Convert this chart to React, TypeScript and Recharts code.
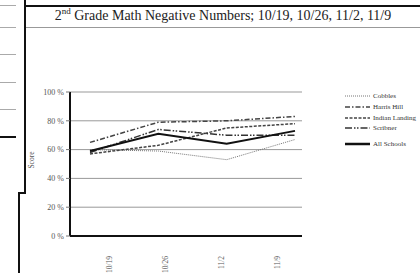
import { LineChart, Line, XAxis, YAxis, CartesianGrid, Legend } from "recharts";

const SERIF = "'Liberation Serif', 'Times New Roman', serif";

// values (percent)
const dates = ["10/19", "10/26", "11/2", "11/9"];
const cobbles = [60, 59, 53, 67];
const harrisHill = [65, 79, 80, 83];
const indianLanding = [57, 63, 75, 78];
const scribner = [58, 74, 70, 70];
const allSchools = [59, 71, 64, 73];
const yTicks = [0, 20, 40, 60, 80, 100];

const data = dates.map((d, i) => ({
  date: d,
  Cobbles: cobbles[i],
  "Harris Hill": harrisHill[i],
  "Indian Landing": indianLanding[i],
  Scribner: scribner[i],
  "All Schools": allSchools[i],
}));

const SERIES = [
  { key: "Cobbles", color: "#777", width: 1, dash: "1 1" },
  { key: "Harris Hill", color: "#444", width: 1.5, dash: "5 2 1.5 2" },
  { key: "Indian Landing", color: "#444", width: 1.5, dash: "3 1.5" },
  { key: "Scribner", color: "#333", width: 1.5, dash: "7 2 1.5 1.5 1.5 2" },
  { key: "All Schools", color: "#111", width: 2, dash: undefined as string | undefined },
];

// keep the legend in series order (recharts sorts the payload by name)
function LegendBox() {
  return (
    <div style={{ width: 77, fontFamily: SERIF, fontSize: 7, color: "#333" }}>
      {SERIES.map((s) => {
        const last = s.key === "All Schools";
        return (
          <div
            key={s.key}
            style={{ display: "flex", alignItems: "center", height: 10.7, marginTop: last ? 5 : 0 }}
          >
            <svg width={28} height={6}>
              <line
                x1={2}
                y1={3}
                x2={27}
                y2={3}
                stroke={s.color}
                strokeWidth={last ? 2.5 : s.width}
                strokeDasharray={s.dash}
              />
            </svg>
            <span style={{ whiteSpace: "nowrap", marginLeft: 2 }}>{s.key}</span>
          </div>
        );
      })}
    </div>
  );
}

function DateTick({ x, y, payload }: any) {
  const ty = y + 18;
  return (
    <text
      x={x}
      y={ty}
      transform={`rotate(-90 ${x} ${ty})`}
      textAnchor="end"
      dominantBaseline="central"
      fontSize={7.5}
      fill="#555"
      fontFamily={SERIF}
    >
      {payload.value}
    </text>
  );
}

function ScoreLabel({ viewBox }: any) {
  const x = viewBox.x + 11;
  const y = 160;
  return (
    <text
      x={x}
      y={y}
      transform={`rotate(-90 ${x} ${y})`}
      textAnchor="middle"
      dominantBaseline="central"
      fontSize={7.5}
      fill="#555"
      fontFamily={SERIF}
    >
      Score
    </text>
  );
}

const rule = (left: number, top: number, width: number, height: number, color: string) => (
  <div style={{ position: "absolute", left, top, width, height, background: color }} />
);

export default function App() {
  return (
    <div style={{ position: "absolute", left: 0, top: 0, width: 420, height: 273, background: "#fff", overflow: "hidden" }}>
      <LineChart width={420} height={273} data={data} margin={{ top: 92, right: 41, bottom: 0, left: 20 }}>
        <CartesianGrid vertical={false} stroke="#999" />
        <XAxis
          xAxisId="lbl"
          dataKey="date"
          height={37}
          padding={{ left: 39, right: 25 }}
          interval={0}
          tickSize={0}
          tickLine={false}
          tick={<DateTick />}
          axisLine={{ stroke: "#111", strokeWidth: 2 }}
        />
        <XAxis dataKey="date" hide height={0} padding={{ left: 20, right: 7 }} />
        <YAxis
          domain={[0, 100]}
          ticks={yTicks}
          interval={0}
          width={50}
          tickFormatter={(v) => `${v} %`}
          tickSize={4}
          tickMargin={2}
          tickLine={{ stroke: "#777" }}
          axisLine={{ stroke: "#111", strokeWidth: 2 }}
          tick={{ fontSize: 8, fill: "#555", fontFamily: SERIF }}
          label={<ScoreLabel />}
        />
        <Legend
          layout="vertical"
          align="right"
          verticalAlign="top"
          content={<LegendBox />}
          wrapperStyle={{ left: 343, right: "auto", top: 91 }}
        />
        {SERIES.map((s) => (
          <Line
            key={s.key}
            type="linear"
            dataKey={s.key}
            stroke={s.color}
            strokeWidth={s.width}
            strokeDasharray={s.dash}
            dot={false}
            isAnimationActive={false}
          />
        ))}
      </LineChart>

      {/* scanned page frame */}
      {rule(25, 5, 395, 2, "#111")}
      {rule(25, 27, 395, 1, "#999")}
      {rule(24, 0, 2, 194, "#111")}
      {rule(18, 192, 8, 2, "#111")}
      {rule(18, 192, 2, 81, "#111")}
      {rule(0, 5, 16, 1, "#aaa")}
      {rule(0, 27, 16, 1, "#aaa")}
      {rule(0, 54, 16, 1, "#aaa")}
      {rule(0, 82, 16, 1, "#aaa")}
      {rule(0, 109, 16, 1, "#aaa")}
      {rule(0, 136, 16, 2, "#111")}

      <div
        style={{
          position: "absolute",
          left: 26,
          right: 0,
          top: 8,
          textAlign: "center",
          fontFamily: SERIF,
          fontSize: 14,
          color: "#222",
          whiteSpace: "nowrap",
        }}
      >
        2<sup style={{ fontSize: 9, lineHeight: 0 }}>nd</sup> Grade Math Negative Numbers; 10/19, 10/26, 11/2, 11/9
      </div>
    </div>
  );
}
